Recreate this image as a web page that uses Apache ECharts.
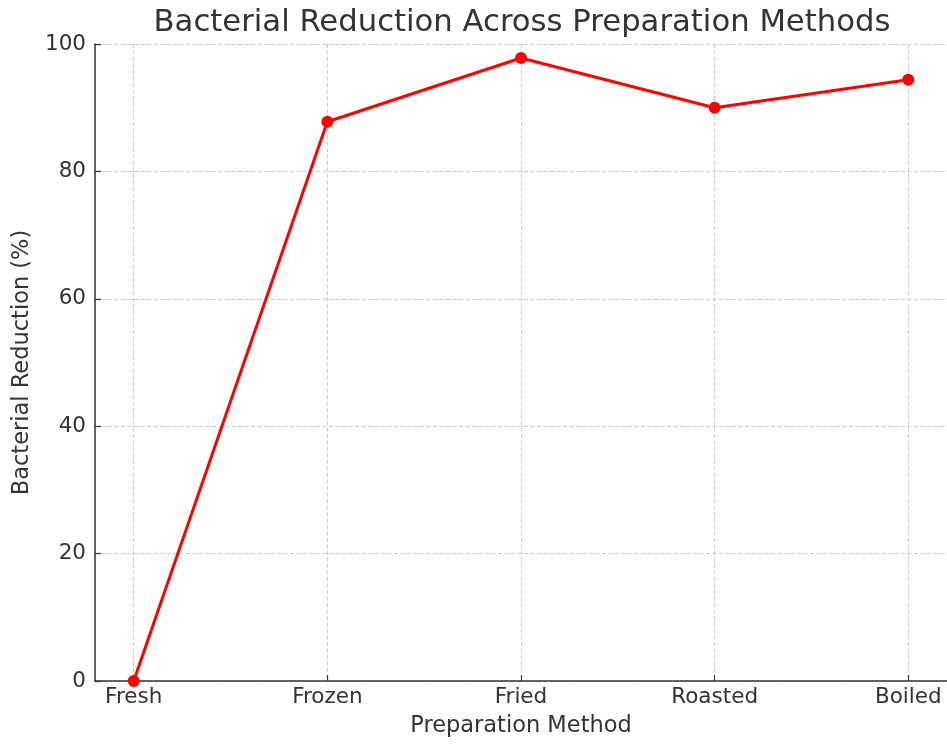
<!DOCTYPE html>
<html>
<head>
<meta charset="utf-8">
<script src="https://cdn.jsdelivr.net/npm/echarts@6/dist/echarts.min.js"></script>
<style>
html,body{margin:0;padding:0;background:#fff;}
#chart{width:947px;height:744px;}
</style>
</head>
<body>
<div id="chart"></div>
<script>
const categories = ['Fresh', 'Frozen', 'Fried', 'Roasted', 'Boiled'];
const reduction = [0, 87.8, 97.8, 90.0, 94.4];
const yTicks = [0, 20, 40, 60, 80, 100];

const FONT = 'DejaVu Sans';
const TXT = '#333333';
const idx = categories.map((c, i) => i);

const chart = echarts.init(document.getElementById('chart'), null, {renderer: 'canvas'});
chart.setOption({
  backgroundColor: '#ffffff',
  animation: false,
  title: {
    text: 'Bacterial Reduction Across Preparation Methods',
    left: 517,
    textAlign: 'center',
    top: 3,
    textStyle: {fontFamily: FONT, fontSize: 30.7, fontWeight: 'normal', color: TXT}
  },
  grid: {left: 95, top: 44, bottom: 63, width: 855, containLabel: false},
  xAxis: {
    type: 'value',
    min: -0.2,
    max: 4.2,
    name: 'Preparation Method',
    nameLocation: 'middle',
    nameGap: 34,
    nameTextStyle: {fontFamily: FONT, fontSize: 22.5, color: TXT},
    axisLine: {show: true, onZero: false, lineStyle: {color: '#333', width: 1.5}},
    axisTick: {show: true, inside: true, length: 6, customValues: idx, lineStyle: {color: '#333', width: 1.2}},
    axisLabel: {
      customValues: idx,
      fontFamily: FONT, fontSize: 21.5, color: TXT, margin: 5,
      formatter: v => categories[Math.round(v)] || ''
    },
    splitLine: {show: true, lineStyle: {color: '#cccccc', width: 1, type: [4, 2.5]}}
  },
  yAxis: {
    type: 'value',
    min: yTicks[0],
    max: yTicks[yTicks.length - 1],
    interval: 20,
    name: 'Bacterial Reduction (%)',
    nameLocation: 'middle',
    nameGap: 60,
    nameTextStyle: {fontFamily: FONT, fontSize: 22.5, color: TXT},
    axisLine: {show: true, onZero: false, lineStyle: {color: '#333', width: 1.5}},
    axisTick: {show: true, inside: true, length: 6, lineStyle: {color: '#333', width: 1.2}},
    axisLabel: {fontFamily: FONT, fontSize: 21.5, color: TXT, margin: 9},
    splitLine: {show: true, lineStyle: {color: '#cccccc', width: 1, type: [4, 2.5]}}
  },
  series: [{
    type: 'line',
    data: reduction.map((v, i) => [i, v]),
    symbol: 'circle',
    symbolSize: 12,
    clip: true,
    lineStyle: {color: '#ff0000', width: 3},
    itemStyle: {color: '#ff0000'}
  }]
});
</script>
</body>
</html>
